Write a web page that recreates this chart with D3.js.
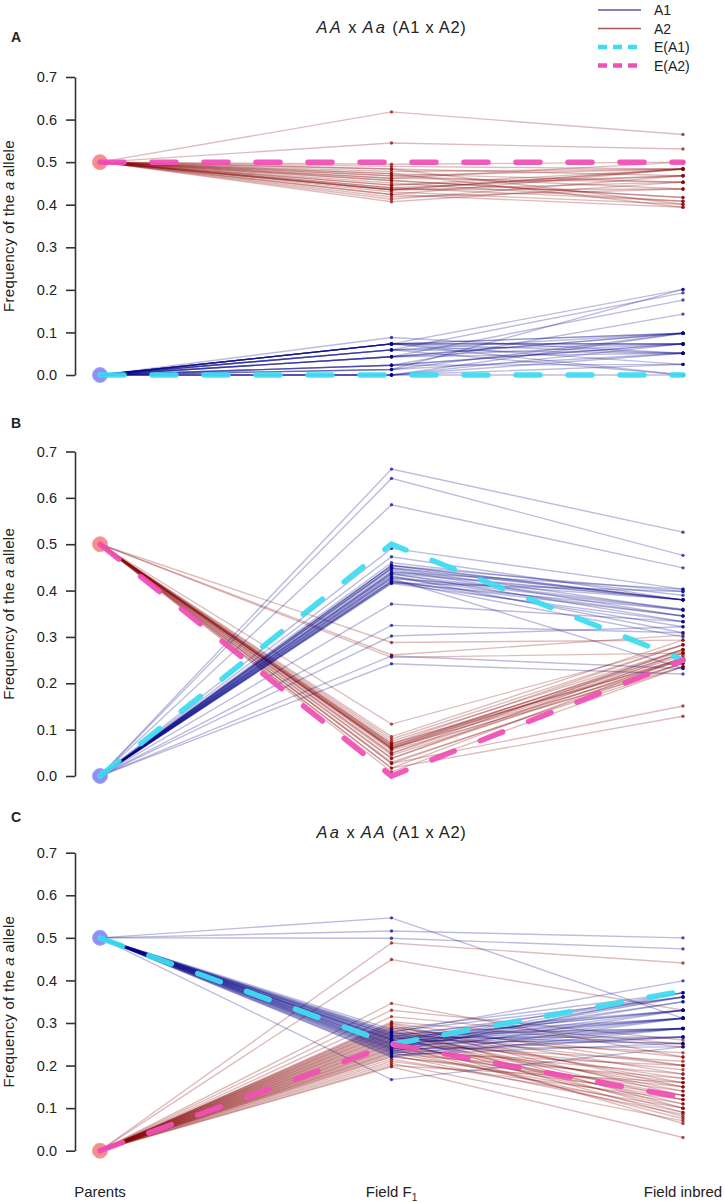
<!DOCTYPE html>
<html><head><meta charset="utf-8">
<script src="https://cdn.jsdelivr.net/npm/d3@7"></script>
<style>
body{margin:0;background:#fff}
svg{display:block}
text{font-family:"Liberation Sans",Arial,Helvetica,sans-serif;fill:#222}
</style>
</head><body>
<svg id="c" width="725" height="1203"></svg>
<script>
// ---------- data ----------
const stages = ["Parents", "Field F1", "Field inbred"];
const yTicks = [0, 0.1, 0.2, 0.3, 0.4, 0.5, 0.6, 0.7];
const legendLabels = ["A1", "A2", "E(A1)", "E(A2)"];

// Panel A : AA x Aa
const parentA_A1 = 0.0, parentA_A2 = 0.5;
const panelA_A1_F1 = [0.088,0.073,0.073,0.073,0.073,0.073,0.073,0.073,0.073,0.059,0.059,0.059,0.059,0.043,0.043,0.043,0.043,0.023,0.023,0.023,0.013,0.013,0.013,0,0,0,0,0.073,0.059,0.043,0.023,0.0];
const panelA_A1_inbred = [0.051,0,0.073,0.098,0.051,0.025,0.073,0.098,0.201,0.098,0.073,0.193,0,0.073,0.176,0.051,0.098,0.143,0.073,0.025,0.201,0.051,0.098,0.073,0.025,0.098,0,0.073,0.051,0.098,0.073,0.051];
const panelA_A2_F1 = [0.618,0.545,0.495,0.49,0.484,0.478,0.473,0.468,0.462,0.457,0.451,0.446,0.44,0.435,0.435,0.435,0.43,0.424,0.418,0.413,0.407,0.468,0.457,0.446,0.435,0.424,0.484,0.473,0.462,0.44];
const panelA_A2_inbred = [0.565,0.531,0.50,0.484,0.468,0.484,0.453,0.437,0.50,0.417,0.408,0.484,0.468,0.484,0.484,0.453,0.401,0.394,0.437,0.468,0.453,0.484,0.417,0.468,0.437,0.484,0.401,0.394,0.453,0.408];
const expA_A1 = [0, 0, 0];
const expA_A2 = [0.5, 0.5, 0.5];

// Panel B
const parentB_A1 = 0.0, parentB_A2 = 0.5;
const panelB_A1_F1 = [0.662,0.642,0.585,0.371,0.325,0.302,0.259,0.242,0.491,0.473,0.454,0.454,0.454,0.448,0.448,0.445,0.44,0.437,0.437,0.432,0.43,0.426,0.426,0.422,0.42,0.417,0.417,0.415,0.45,0.44,0.435,0.428,0.46,0.42];
const panelB_A1_inbred = [0.526,0.476,0.449,0.333,0.309,0.322,0.232,0.22,0.403,0.380,0.380,0.380,0.398,0.358,0.380,0.345,0.403,0.333,0.380,0.309,0.358,0.232,0.380,0.322,0.345,0.398,0.358,0.333,0.380,0.38,0.36,0.345,0.39,0.30];
const panelB_A2_F1 = [0.288,0.261,0.256,0.112,0.027,0.017,0.085,0.08,0.075,0.07,0.068,0.065,0.062,0.06,0.06,0.058,0.055,0.049,0.049,0.045,0.038,0.038,0.03,0.027,0.017,0.009,0.065,0.06,0.07];
const panelB_A2_inbred = [0.293,0.304,0.265,0.283,0.151,0.129,0.293,0.283,0.273,0.283,0.265,0.254,0.273,0.243,0.265,0.254,0.236,0.273,0.25,0.243,0.254,0.265,0.236,0.243,0.254,0.236,0.27,0.26,0.25];
const expB_A1 = [0, 0.5, 0.25];
const expB_A2 = [0.5, 0, 0.25];

// Panel C : Aa x AA
const parentC_A1 = 0.5, parentC_A2 = 0.0;
const panelC_A1_F1 = [0.547,0.516,0.499,0.167,0.285,0.28,0.278,0.275,0.272,0.27,0.268,0.265,0.262,0.26,0.258,0.255,0.252,0.25,0.248,0.245,0.243,0.24,0.238,0.235,0.232,0.23,0.228,0.225,0.222,0.22,0.26,0.255,0.25,0.245,0.265,0.27,0.24,0.235,0.275,0.262];
const panelC_A1_inbred = [0.311,0.50,0.474,0.244,0.371,0.361,0.399,0.33,0.311,0.287,0.361,0.267,0.33,0.252,0.371,0.311,0.287,0.35,0.267,0.33,0.361,0.244,0.311,0.287,0.371,0.267,0.33,0.252,0.311,0.287,0.287,0.361,0.311,0.287,0.33,0.252,0.35,0.267,0.287,0.311];
const panelC_A2_F1 = [0.488,0.449,0.346,0.33,0.315,0.197,0.303,0.3,0.298,0.295,0.292,0.29,0.288,0.285,0.282,0.28,0.278,0.275,0.272,0.27,0.268,0.265,0.262,0.26,0.258,0.255,0.252,0.25,0.248,0.245,0.242,0.24,0.238,0.235,0.232,0.23,0.228,0.225,0.222,0.22,0.215,0.21,0.205,0.2];
const panelC_A2_inbred = [0.441,0.33,0.22,0.26,0.25,0.031,0.244,0.2,0.15,0.13,0.18,0.1,0.22,0.16,0.12,0.09,0.2,0.14,0.08,0.17,0.11,0.23,0.064,0.15,0.19,0.1,0.13,0.21,0.075,0.16,0.12,0.18,0.09,0.14,0.2,0.11,0.17,0.085,0.13,0.15,0.1,0.12,0.07,0.16];
const expC_A1 = [0.5, 0.25, 0.375];
const expC_A2 = [0, 0.25, 0.125];

// ---------- drawing ----------
const COL_A1 = "#06068a", COL_A2 = "#870808";
const COL_E1 = "#3fdcf0", COL_E2 = "#f050b6";

function reps(parent, f1, inb) {
  const n = Math.min(f1.length, inb.length);
  const out = [];
  for (let i = 0; i < n; i++) out.push([parent, f1[i], inb[i]]);
  return out;
}

const panels = [
  { label: "A", labelY: 42, top: 77, bottom: 375,
    title: [["AA", true], [" x ", false], ["Aa", true], [" (A1 x A2)", false]], titleY: 33,
    pA1: parentA_A1, pA2: parentA_A2,
    a1: reps(parentA_A1, panelA_A1_F1, panelA_A1_inbred),
    a2: reps(parentA_A2, panelA_A2_F1, panelA_A2_inbred),
    e1: expA_A1, e2: expA_A2 },
  { label: "B", labelY: 428, top: 451.5, bottom: 776, title: null,
    pA1: parentB_A1, pA2: parentB_A2,
    a1: reps(parentB_A1, panelB_A1_F1, panelB_A1_inbred),
    a2: reps(parentB_A2, panelB_A2_F1, panelB_A2_inbred),
    e1: expB_A1, e2: expB_A2 },
  { label: "C", labelY: 822, top: 852.7, bottom: 1150.7,
    title: [["Aa", true], [" x ", false], ["AA", true], [" (A1 x A2)", false]], titleY: 838,
    pA1: parentC_A1, pA2: parentC_A2,
    a1: reps(parentC_A1, panelC_A1_F1, panelC_A1_inbred),
    a2: reps(parentC_A2, panelC_A2_F1, panelC_A2_inbred),
    e1: expC_A1, e2: expC_A2 }
];

const svg = d3.select("#c");
const x = d3.scalePoint().domain(stages).range([100, 683]);
const AXIS_X = 75;

panels.forEach(p => {
  const y = d3.scaleLinear().domain([0, 0.7]).range([p.bottom, p.top]);
  const g = svg.append("g");
  const line = d3.line().x((d, i) => x(stages[i])).y(d => y(d));

  g.append("text").attr("x", 11).attr("y", p.labelY)
    .attr("font-size", 14).attr("font-weight", "bold").text(p.label);

  if (p.title) {
    const t = g.append("text").attr("x", x(stages[1])).attr("y", p.titleY)
      .attr("text-anchor", "middle").attr("font-size", 16.5).attr("letter-spacing", 0.7);
    p.title.forEach(([s, it]) => {
      t.append("tspan").attr("font-style", it ? "italic" : "normal")
        .attr("letter-spacing", it ? 2.2 : 0.7).attr("xml:space","preserve").text(s);
    });
  }

  const ax = g.append("g").attr("transform", `translate(${AXIS_X},0)`)
    .call(d3.axisLeft(y).tickValues(yTicks).tickFormat(d3.format(".1f"))
      .tickSize(9).tickSizeOuter(0).tickPadding(9));
  ax.select(".domain").attr("stroke", "#333").attr("stroke-width", 1.6);
  ax.selectAll(".tick line").attr("stroke", "#333").attr("stroke-width", 1.6);
  ax.selectAll(".tick text").attr("font-size", 14.5).attr("font-family", '"Liberation Sans",Arial,sans-serif').attr("fill", "#222");

  g.append("text")
    .attr("transform", `translate(14,${(p.top + p.bottom) / 2}) rotate(-90)`)
    .attr("text-anchor", "middle").attr("font-size", 15).attr("letter-spacing", 0.3)
    .html('Frequency of the <tspan font-style="italic">a</tspan> allele');

  g.append("circle").attr("cx", x(stages[0])).attr("cy", y(p.pA2)).attr("r", 7.5)
    .attr("fill", "#f47a78").attr("fill-opacity", 0.85).attr("stroke", "#f2a0a0").attr("stroke-width", 1);
  g.append("circle").attr("cx", x(stages[0])).attr("cy", y(p.pA1)).attr("r", 7.5)
    .attr("fill", "#7b7bf4").attr("fill-opacity", 0.85).attr("stroke", "#a8a8f8").attr("stroke-width", 1);

  [[p.a2, COL_A2], [p.a1, COL_A1]].forEach(([set, col]) => {
    g.append("g").selectAll("path").data(set).join("path")
      .attr("d", line).attr("fill", "none").attr("stroke", col)
      .attr("stroke-width", 1.4).attr("stroke-opacity", 0.27);
    const pts = [];
    set.forEach(r => { pts.push([1, r[1]]); pts.push([2, r[2]]); });
    g.append("g").selectAll("circle").data(pts).join("circle")
      .attr("cx", d => x(stages[d[0]])).attr("cy", d => y(d[1])).attr("r", 1.7)
      .attr("fill", col).attr("fill-opacity", 0.7);
  });

  [[p.e1, COL_E1], [p.e2, COL_E2]].forEach(([e, col]) => {
    g.append("path").attr("d", line(e)).attr("fill", "none").attr("stroke", col)
      .attr("stroke-width", 5.5).attr("stroke-dasharray", "24,28").attr("stroke-linecap", "round")
      .attr("stroke-opacity", 0.95);
  });
});

const xl = svg.append("g");
xl.append("text").attr("x", x(stages[0])).attr("y", 1197).attr("text-anchor", "middle").attr("font-size", 15).text("Parents");
const f1t = xl.append("text").attr("x", x(stages[1])).attr("y", 1197).attr("text-anchor", "middle").attr("font-size", 15);
f1t.append("tspan").text("Field F");
f1t.append("tspan").attr("font-size", 10).attr("dy", 4).text("1");
xl.append("text").attr("x", x(stages[2])).attr("y", 1197).attr("text-anchor", "middle").attr("font-size", 15).text("Field inbred");

const leg = svg.append("g");
const legStyles = [
  { col: "#5a5aa6", w: 1.6, dash: null },
  { col: "#a85656", w: 1.6, dash: null },
  { col: COL_E1, w: 4.5, dash: "9,6" },
  { col: COL_E2, w: 4.5, dash: "9,6" }
];
const legY = [10, 28.5, 47, 65.5];
legendLabels.forEach((lab, i) => {
  const s = legStyles[i];
  const ln = leg.append("line").attr("x1", 598).attr("x2", 641).attr("y1", legY[i]).attr("y2", legY[i])
    .attr("stroke", s.col).attr("stroke-width", s.w);
  if (s.dash) ln.attr("stroke-dasharray", s.dash).attr("stroke-linecap", "butt");
  leg.append("text").attr("x", 654).attr("y", legY[i] + 5).attr("font-size", 14).text(lab);
});
</script>
</body></html>
